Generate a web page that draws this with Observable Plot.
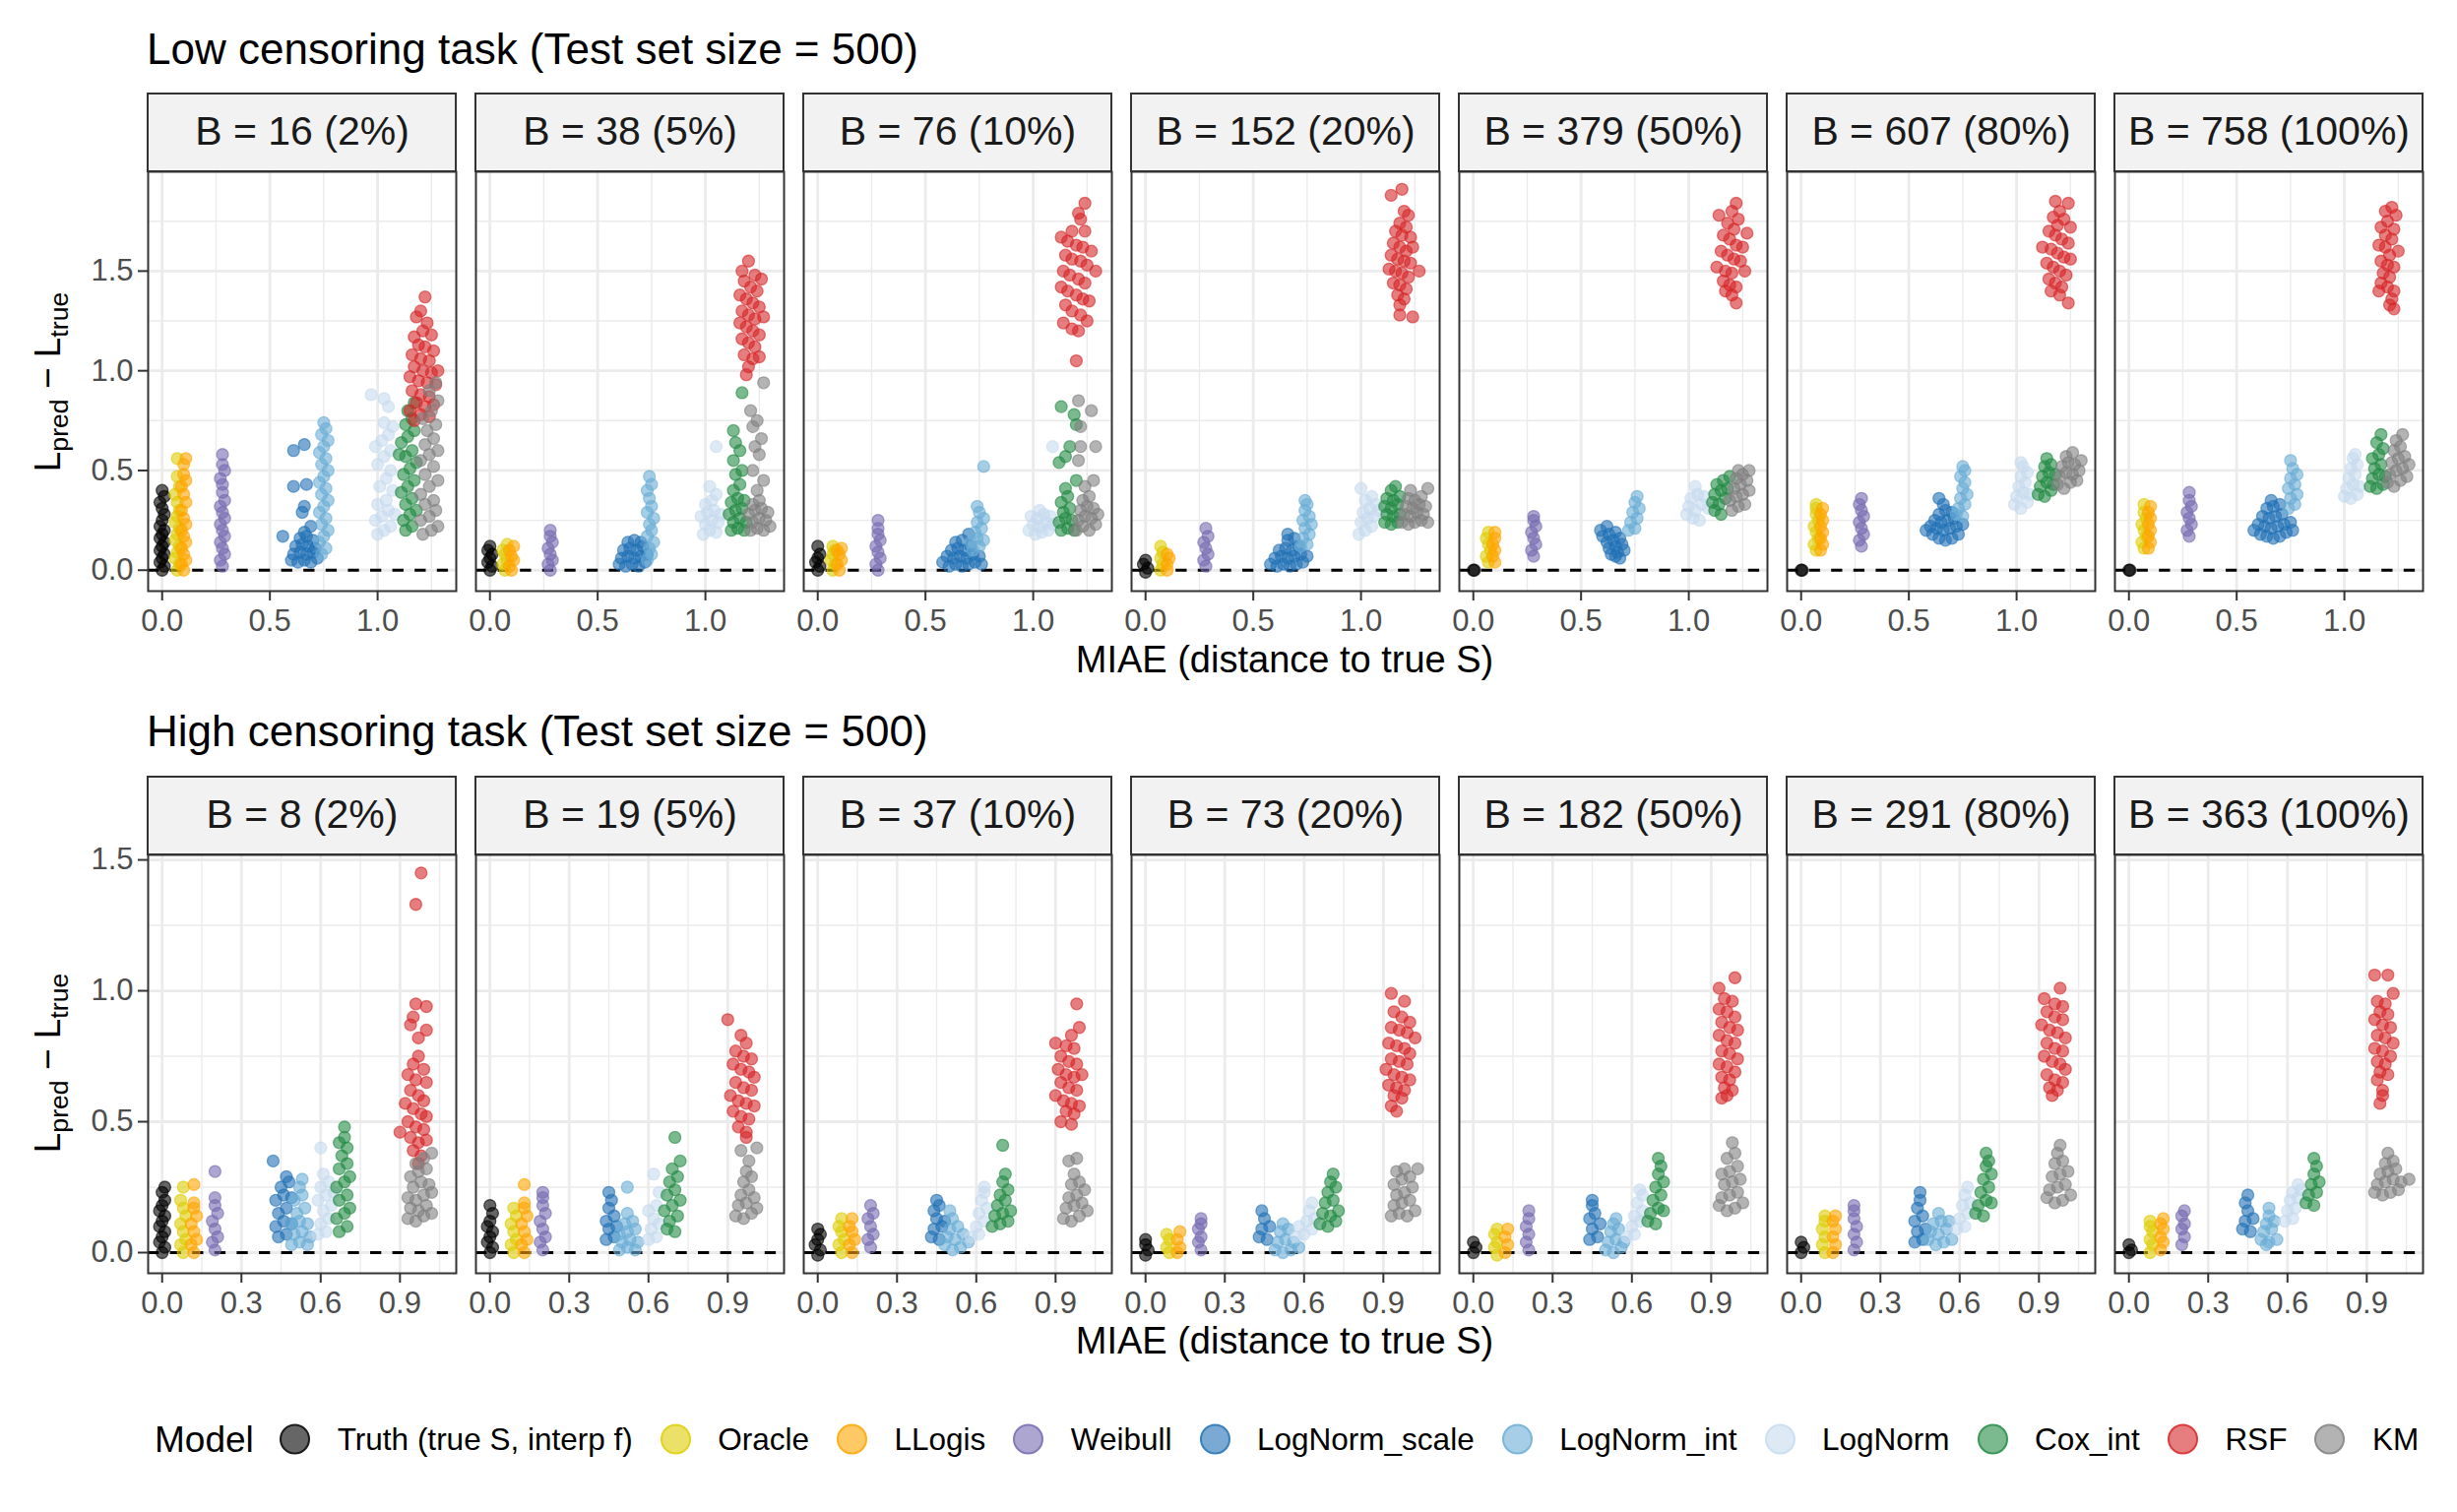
<!DOCTYPE html>
<html><head><meta charset="utf-8">
<script src="https://cdn.jsdelivr.net/npm/d3@7"></script>
<script src="https://cdn.jsdelivr.net/npm/@observablehq/plot@0.6"></script>
<style>
body{margin:0;background:#fff}
#root{position:relative;width:2496px;height:1536px;background:#fff;font-family:"Liberation Sans",Arial,sans-serif;color:#000;overflow:hidden}
.abs{position:absolute;white-space:nowrap;line-height:1}
.title{font-size:44px;left:149px}
.xlab{font-size:38px;left:1305px;transform:translateX(-50%)}
.ylab{font-size:37px;left:52px;transform:translate(-50%,-50%) rotate(-90deg)}
.ylab sub{font-size:0.72em;line-height:1}
.row{position:absolute;left:0}
#legend{position:absolute;left:157px;top:1462px;transform:translateY(-50%);display:flex;align-items:center;white-space:nowrap;line-height:1}
#legend .ltitle{font-size:37px;margin-right:-1.5px}
#legend .key{width:31px;height:31px;border-radius:50%;box-sizing:border-box;margin:0 27.5px 0 28px}
#legend .lab{font-size:31.5px}
</style></head>
<body><div id="root"></div>
<script>
// ---- models, colours, panel labels ----
const models = ["Truth (true S, interp f)","Oracle","LLogis","Weibull","LogNorm_scale","LogNorm_int","LogNorm","Cox_int","RSF","KM"];
const colors = ["#000000","#DDCD05","#FFA500","#756BB1","#2171B5","#6BAED6","#C6DBEF","#238B45","#D62728","#808080"];
const lowLabels = ["B = 16 (2%)","B = 38 (5%)","B = 76 (10%)","B = 152 (20%)","B = 379 (50%)","B = 607 (80%)","B = 758 (100%)"];
const highLabels = ["B = 8 (2%)","B = 19 (5%)","B = 37 (10%)","B = 73 (20%)","B = 182 (50%)","B = 291 (80%)","B = 363 (100%)"];
const lowXTicks = [0, 0.5, 1.0], lowXMinor = [0.25, 0.75, 1.25];
const highXTicks = [0, 0.3, 0.6, 0.9], highXMinor = [0.15, 0.45, 0.75, 1.05];
const yTicks = [0, 0.5, 1.0, 1.5];
const lowYMinor = [0.25, 0.75, 1.25, 1.75], highYMinor = [0.25, 0.75, 1.25];

// ---- points: one string per model, "MIAE,Lpred-Ltrue" pairs ----
const low16 = [
"0,0 .01,.02 -.01,.04 0,.06 .01,.08 -.01,.1 0,.12 .01,.14 -.01,.16 0,.18 .01,.2 -.01,.22 0,.25 .01,.28 0,.31 -.01,.34 .01,.37 0,.4",
".07,0 .08,.03 .06,.06 .07,.09 .08,.12 .06,.15 .07,.18 .08,.21 .06,.24 .07,.27 .08,.3 .07,.34 .06,.38 .08,.42 .07,.47 .07,.56",
".1,0 .09,.03 .11,.05 .1,.08 .09,.11 .11,.14 .1,.17 .09,.2 .11,.23 .1,.26 .09,.3 .11,.34 .1,.38 .09,.42 .11,.45 .1,.48 .1,.53 .11,.56",
".28,.02 .27,.05 .29,.08 .28,.11 .27,.14 .29,.17 .28,.2 .27,.23 .29,.26 .28,.29 .27,.32 .29,.35 .28,.39 .28,.43 .27,.46 .29,.5 .28,.53 .28,.58",
".6,.05 .63,.04 .66,.05 .69,.04 .72,.06 .61,.08 .64,.09 .67,.08 .7,.09 .62,.12 .65,.13 .68,.12 .71,.11 .64,.16 .67,.17 .7,.15 .66,.19 .56,.17 .61,.6 .66,.63 .61,.42 .67,.43 .65,.29 .66,.32 .69,.22",
".74,.08 .76,.11 .73,.14 .75,.17 .77,.2 .74,.23 .76,.26 .73,.29 .75,.32 .77,.35 .74,.38 .76,.41 .73,.44 .75,.47 .77,.5 .74,.53 .76,.56 .73,.59 .75,.62 .77,.65 .74,.68 .76,.71 .75,.74",
"1.0,.18 1.03,.2 1.06,.22 .99,.25 1.02,.27 1.05,.3 1.08,.28 1.0,.33 1.04,.35 1.07,.4 1.01,.42 1.04,.46 1.06,.5 1.0,.53 1.03,.57 1.06,.6 .99,.62 1.02,.65 1.05,.68 1.07,.72 1.03,.74 .97,.88 1.03,.86 1.05,.82",
"1.13,.2 1.16,.22 1.12,.25 1.15,.28 1.18,.3 1.13,.33 1.16,.36 1.11,.39 1.14,.42 1.17,.45 1.12,.48 1.15,.51 1.18,.54 1.13,.57 1.16,.6 1.11,.64 1.14,.67 1.17,.7 1.13,.73 1.16,.76 1.14,.8 1.17,.84 1.1,.58",
"1.22,1.37 1.2,1.3 1.18,1.27 1.23,1.24 1.21,1.2 1.17,1.17 1.25,1.18 1.19,1.13 1.22,1.12 1.26,1.1 1.16,1.08 1.2,1.06 1.24,1.05 1.17,1.02 1.21,1.0 1.25,.99 1.28,1.0 1.15,.97 1.19,.95 1.23,.94 1.27,.93 1.16,.9 1.2,.88 1.24,.87 1.18,.84 1.22,.82 1.26,.83 1.15,.8 1.2,.78 1.24,.77 1.17,.75",
"1.21,.18 1.25,.2 1.28,.22 1.2,.25 1.24,.27 1.27,.3 1.22,.33 1.26,.35 1.2,.38 1.24,.42 1.28,.45 1.22,.48 1.26,.52 1.2,.55 1.24,.58 1.28,.6 1.22,.63 1.26,.66 1.23,.7 1.27,.73 1.21,.76 1.25,.8 1.28,.85 1.24,.9 1.27,.94"
];
const low38 = [
"0,0 .01,.02 -.01,.04 0,.06 .01,.08 -.01,.1 0,.12",
".07,0 .06,.03 .08,.05 .07,.08 .06,.1 .08,.13",
".1,0 .09,.02 .11,.05 .1,.07 .09,.1 .11,.12",
".28,0 .27,.03 .29,.05 .28,.08 .27,.11 .29,.14 .28,.17 .28,.2",
".6,.03 .63,.02 .66,.03 .69,.02 .72,.04 .61,.06 .64,.07 .67,.06 .7,.07 .73,.08 .62,.1 .65,.11 .68,.1 .71,.12 .64,.14 .67,.15 .7,.14",
".73,.05 .75,.08 .74,.11 .76,.14 .73,.17 .75,.2 .74,.23 .76,.26 .73,.29 .75,.32 .74,.36 .73,.4 .75,.43 .74,.47",
".99,.18 1.02,.2 1.05,.19 1.0,.23 1.03,.25 1.06,.24 .98,.27 1.01,.29 1.04,.3 1.07,.28 1.0,.33 1.03,.35 1.05,.38 1.02,.42 1.05,.62",
"1.12,.2 1.15,.21 1.18,.2 1.13,.24 1.16,.26 1.19,.24 1.11,.28 1.14,.3 1.17,.31 1.12,.34 1.15,.36 1.18,.35 1.13,.4 1.16,.43 1.14,.48 1.17,.5 1.13,.55 1.16,.6 1.14,.64 1.13,.7 1.17,.89",
"1.2,1.55 1.17,1.5 1.23,1.48 1.26,1.46 1.18,1.45 1.21,1.42 1.24,1.4 1.16,1.38 1.19,1.36 1.22,1.34 1.25,1.32 1.17,1.3 1.2,1.28 1.23,1.26 1.27,1.27 1.16,1.24 1.19,1.22 1.22,1.2 1.25,1.18 1.17,1.16 1.2,1.14 1.23,1.12 1.18,1.08 1.22,1.06 1.25,1.07 1.2,1.02 1.19,.98",
"1.21,.2 1.24,.21 1.27,.2 1.3,.22 1.22,.24 1.25,.26 1.28,.25 1.2,.28 1.23,.3 1.26,.31 1.29,.29 1.22,.33 1.25,.35 1.24,.4 1.27,.45 1.22,.5 1.25,.58 1.23,.62 1.26,.66 1.22,.72 1.24,.75 1.21,.8 1.27,.94"
];
const low76 = [
"0,0 .01,.02 -.01,.04 0,.06 .01,.08 0,.12",
".07,0 .08,.03 .06,.05 .07,.08 .08,.1 .07,.12",
".1,0 .09,.03 .11,.05 .1,.08 .09,.1 .11,.11",
".28,0 .27,.03 .29,.06 .28,.09 .27,.12 .29,.15 .28,.18 .28,.21 .28,.25",
".58,.04 .61,.02 .64,.03 .67,.02 .7,.03 .73,.04 .76,.03 .6,.07 .63,.06 .66,.07 .69,.06 .72,.08 .75,.07 .62,.1 .65,.11 .68,.1 .71,.12 .64,.14 .67,.15 .7,.18",
".72,.1 .75,.12 .71,.14 .74,.16 .77,.15 .73,.19 .76,.21 .74,.24 .77,.26 .75,.29 .74,.32 .77,.52",
".98,.2 1.01,.18 1.04,.19 1.07,.2 1.0,.23 1.03,.22 1.06,.24 1.09,.23 .99,.27 1.02,.26 1.05,.28 1.08,.27 1.03,.3 1.09,.62",
"1.13,.2 1.16,.21 1.19,.2 1.12,.24 1.15,.26 1.18,.25 1.14,.29 1.17,.31 1.13,.34 1.16,.37 1.15,.41 1.2,.45 1.12,.54 1.15,.57 1.17,.62 1.2,.73 1.19,.78 1.13,.82",
"1.24,1.84 1.21,1.79 1.22,1.76 1.18,1.7 1.24,1.7 1.13,1.67 1.16,1.65 1.2,1.63 1.23,1.62 1.27,1.6 1.15,1.58 1.18,1.56 1.22,1.55 1.25,1.53 1.29,1.5 1.14,1.5 1.17,1.48 1.21,1.46 1.24,1.44 1.13,1.42 1.16,1.4 1.2,1.38 1.23,1.36 1.26,1.35 1.15,1.33 1.18,1.3 1.22,1.28 1.25,1.25 1.14,1.24 1.18,1.21 1.21,1.2 1.2,1.05",
"1.2,.2 1.23,.22 1.26,.2 1.29,.23 1.21,.25 1.24,.27 1.27,.26 1.3,.28 1.22,.3 1.25,.32 1.28,.31 1.23,.35 1.26,.37 1.24,.42 1.28,.45 1.21,.55 1.29,.62 1.22,.62 1.22,.72 1.27,.8 1.21,.85"
];
const low152 = [
"0,-.01 .01,.01 -.01,.03 0,.05",
".07,0 .08,.03 .07,.06 .08,.09 .07,.12",
".1,0 .1,.03 .11,.06 .1,.08",
".28,.02 .27,.05 .29,.08 .28,.11 .27,.14 .29,.17 .28,.21",
".58,.03 .61,.02 .64,.03 .67,.02 .7,.03 .73,.04 .6,.06 .63,.07 .66,.06 .69,.07 .72,.08 .75,.07 .62,.1 .65,.11 .68,.1 .71,.12 .66,.15 .69,.16 .66,.18",
".72,.12 .75,.13 .73,.16 .76,.18 .74,.21 .77,.23 .73,.25 .76,.27 .74,.3 .75,.33 .74,.35",
".99,.18 1.02,.2 1.05,.22 1.0,.24 1.03,.26 1.06,.27 1.08,.3 1.01,.29 1.04,.31 1.07,.33 1.02,.35 1.05,.37 1.0,.41",
"1.11,.24 1.14,.23 1.17,.24 1.12,.28 1.15,.27 1.18,.28 1.11,.32 1.14,.31 1.17,.33 1.12,.36 1.15,.35 1.18,.37 1.14,.4 1.16,.42",
"1.19,1.91 1.14,1.88 1.2,1.8 1.22,1.78 1.18,1.74 1.21,1.72 1.16,1.7 1.19,1.68 1.23,1.67 1.15,1.64 1.18,1.62 1.21,1.6 1.24,1.62 1.14,1.58 1.17,1.56 1.2,1.55 1.23,1.54 1.13,1.51 1.16,1.5 1.19,1.49 1.22,1.47 1.27,1.5 1.15,1.44 1.18,1.43 1.21,1.41 1.17,1.38 1.2,1.36 1.18,1.33 1.18,1.28 1.24,1.27",
"1.19,.24 1.22,.23 1.25,.24 1.28,.25 1.31,.24 1.2,.28 1.23,.27 1.26,.29 1.29,.28 1.21,.32 1.24,.31 1.27,.33 1.3,.32 1.22,.36 1.25,.35 1.28,.37 1.23,.4 1.31,.41"
];
const low379 = [
"0,0 .005,0",
".07,.04 .06,.07 .08,.1 .07,.13 .06,.16 .07,.19",
".1,.04 .09,.07 .1,.1 .09,.13 .1,.16 .1,.19",
".28,.07 .27,.1 .29,.13 .28,.16 .27,.19 .29,.22 .28,.25 .28,.27",
".59,.2 .62,.22 .6,.17 .63,.18 .66,.19 .62,.14 .65,.15 .68,.16 .63,.11 .66,.12 .69,.13 .64,.08 .67,.09 .7,.1 .66,.07 .68,.06",
".72,.2 .75,.21 .73,.24 .76,.26 .74,.29 .77,.31 .75,.34 .76,.37",
".99,.28 1.02,.26 1.05,.25 1.0,.32 1.03,.3 1.06,.33 1.09,.31 1.01,.36 1.04,.38 1.07,.37 1.03,.42",
"1.12,.3 1.15,.28 1.11,.34 1.14,.33 1.17,.36 1.12,.38 1.15,.4 1.18,.41 1.13,.43 1.16,.45 1.19,.47",
"1.22,1.84 1.2,1.8 1.14,1.78 1.23,1.76 1.18,1.74 1.21,1.71 1.27,1.69 1.16,1.68 1.19,1.66 1.22,1.63 1.25,1.62 1.15,1.6 1.18,1.58 1.21,1.56 1.24,1.55 1.13,1.52 1.17,1.5 1.2,1.49 1.26,1.5 1.16,1.45 1.19,1.43 1.22,1.42 1.17,1.4 1.2,1.38 1.22,1.34",
"1.2,.3 1.23,.32 1.26,.33 1.19,.35 1.22,.37 1.25,.38 1.28,.4 1.21,.41 1.24,.43 1.27,.45 1.22,.46 1.25,.48 1.28,.5 1.23,.5"
];
const low607 = [
"0,0 .005,0",
".07,.1 .06,.13 .08,.16 .07,.19 .06,.22 .08,.25 .07,.28 .07,.31 .07,.33",
".09,.1 .1,.13 .09,.16 .1,.19 .09,.22 .1,.25 .09,.28 .1,.31",
".28,.12 .27,.15 .29,.18 .28,.21 .27,.24 .29,.27 .28,.3 .27,.33 .28,.36",
".58,.2 .61,.18 .64,.16 .67,.15 .7,.16 .73,.18 .6,.22 .63,.21 .66,.2 .69,.21 .72,.22 .75,.23 .62,.25 .65,.24 .68,.25 .71,.26 .64,.28 .67,.3 .7,.29 .66,.33 .64,.36",
".72,.28 .75,.27 .73,.31 .76,.33 .74,.36 .77,.38 .75,.41 .76,.44 .74,.47 .76,.5 .75,.52",
".99,.33 1.02,.31 1.05,.34 1.0,.37 1.03,.39 1.06,.38 1.01,.42 1.04,.44 1.02,.47 1.05,.49 1.03,.52 1.02,.54",
"1.1,.38 1.13,.37 1.16,.4 1.11,.42 1.14,.44 1.17,.43 1.12,.47 1.15,.49 1.18,.48 1.13,.52 1.16,.53 1.14,.56",
"1.18,1.85 1.24,1.84 1.2,1.8 1.17,1.77 1.22,1.76 1.19,1.73 1.25,1.72 1.15,1.7 1.18,1.68 1.21,1.66 1.24,1.64 1.12,1.62 1.16,1.61 1.19,1.59 1.22,1.57 1.25,1.56 1.14,1.54 1.17,1.52 1.2,1.5 1.23,1.48 1.15,1.46 1.18,1.44 1.21,1.42 1.16,1.4 1.2,1.38 1.24,1.34",
"1.19,.43 1.22,.41 1.25,.44 1.28,.45 1.2,.47 1.23,.49 1.26,.48 1.29,.5 1.21,.52 1.24,.54 1.27,.53 1.3,.55 1.23,.57 1.26,.59"
];
const low758 = [
"0,0 .005,0",
".07,.11 .06,.14 .08,.17 .07,.2 .06,.23 .08,.26 .07,.29 .07,.33",
".09,.11 .1,.14 .09,.17 .1,.2 .09,.23 .1,.26 .09,.29 .1,.32",
".28,.17 .27,.2 .29,.23 .28,.26 .27,.29 .29,.32 .28,.35 .28,.39",
".58,.2 .61,.18 .64,.17 .67,.16 .7,.17 .73,.19 .76,.2 .6,.23 .63,.22 .66,.21 .69,.22 .72,.23 .75,.24 .62,.27 .65,.26 .68,.27 .71,.28 .64,.31 .67,.32 .7,.33 .66,.35",
".74,.31 .77,.33 .75,.36 .78,.38 .74,.41 .77,.43 .75,.46 .78,.48 .76,.51 .75,.55",
"1.0,.37 1.03,.36 1.06,.38 1.01,.41 1.04,.43 1.07,.42 1.02,.46 1.05,.48 1.03,.51 1.06,.53 1.04,.56 1.05,.58",
"1.12,.42 1.15,.41 1.18,.43 1.13,.46 1.16,.48 1.19,.47 1.14,.51 1.17,.53 1.13,.56 1.16,.58 1.18,.61 1.15,.64 1.17,.68",
"1.22,1.82 1.19,1.8 1.24,1.78 1.2,1.75 1.17,1.72 1.23,1.71 1.19,1.68 1.22,1.66 1.16,1.63 1.19,1.62 1.25,1.6 1.21,1.58 1.17,1.55 1.2,1.53 1.23,1.52 1.18,1.49 1.21,1.47 1.17,1.44 1.2,1.42 1.23,1.4 1.16,1.4 1.22,1.36 1.21,1.33 1.23,1.31",
"1.2,.44 1.23,.42 1.26,.45 1.29,.47 1.21,.48 1.24,.5 1.27,.51 1.3,.53 1.22,.54 1.25,.56 1.28,.57 1.23,.6 1.26,.62 1.24,.65 1.27,.68"
];
const high8 = [
"0,0 .01,.02 -.01,.04 0,.06 .01,.08 -.01,.1 0,.12 .01,.14 -.01,.16 0,.18 .01,.2 0,.23 .01,.25",
".08,0 .07,.03 .09,.05 .08,.08 .07,.11 .09,.14 .08,.17 .07,.2 .08,.25",
".12,0 .11,.03 .13,.05 .12,.08 .11,.11 .13,.14 .12,.17 .12,.19 .12,.26",
".2,.01 .19,.04 .21,.06 .2,.09 .19,.12 .21,.15 .2,.18 .2,.21 .2,.31",
".44,.06 .47,.07 .43,.1 .46,.12 .49,.11 .44,.15 .47,.17 .43,.2 .46,.22 .49,.21 .45,.25 .48,.27 .47,.29 .42,.35",
".49,.03 .52,.04 .55,.03 .5,.07 .53,.08 .56,.06 .49,.11 .52,.12 .55,.11 .51,.15 .54,.17 .5,.2 .53,.22 .52,.25 .53,.28",
".59,.07 .62,.08 .6,.11 .63,.13 .61,.16 .64,.18 .59,.2 .62,.22 .65,.23 .6,.25 .63,.27 .61,.3 .6,.4",
".67,.08 .7,.1 .66,.13 .69,.15 .71,.17 .67,.2 .7,.22 .66,.25 .69,.27 .71,.29 .67,.32 .7,.34 .68,.37 .7,.4 .67,.42 .69,.44 .69,.48",
".98,1.45 .96,1.33 .96,.95 1.0,.94 .95,.9 1.0,.85 .97,.82 .94,.87 .97,.75 .95,.72 .99,.7 .93,.68 .96,.66 1.0,.65 .94,.62 .97,.6 .99,.58 .92,.57 .95,.55 .98,.53 1.0,.52 .93,.5 .96,.48 .99,.47 .9,.46 .94,.44 .97,.42 1.0,.43 .95,.39 .98,.37 .97,.34",
".93,.13 .96,.12 .99,.14 1.02,.15 .94,.17 .97,.16 1.0,.18 .93,.21 .96,.2 .99,.22 1.02,.23 .95,.25 .98,.27 1.01,.26 .94,.29 .97,.31 1.0,.32 .96,.34 .99,.36 1.02,.38"
];
const high19 = [
"0,0 .01,.02 -.01,.04 0,.06 .01,.08 -.01,.1 0,.12 .01,.15 0,.18",
".09,0 .08,.03 .1,.05 .09,.08 .08,.11 .1,.14 .09,.17",
".13,0 .12,.03 .14,.05 .13,.08 .12,.11 .14,.14 .13,.17 .13,.19 .13,.26",
".2,.01 .19,.04 .21,.06 .2,.09 .19,.12 .21,.15 .2,.18 .2,.21 .2,.23",
".44,.05 .47,.06 .45,.09 .48,.1 .44,.12 .47,.14 .45,.17 .46,.2 .45,.23",
".49,.01 .52,.02 .55,.01 .5,.04 .53,.05 .56,.04 .49,.07 .52,.08 .55,.09 .51,.11 .54,.12 .52,.15 .52,.25",
".6,.05 .63,.06 .61,.09 .64,.11 .62,.13 .6,.16 .63,.18 .64,.23 .62,.3",
".67,.09 .7,.08 .68,.12 .71,.14 .66,.16 .69,.18 .72,.2 .67,.22 .7,.24 .68,.27 .71,.29 .69,.32 .72,.35 .7,.44",
".9,.89 .95,.83 .97,.8 .93,.77 .96,.75 .99,.74 .92,.72 .95,.7 .98,.69 1.0,.67 .93,.65 .96,.63 .99,.62 .91,.6 .94,.58 .97,.57 1.0,.56 .92,.54 .95,.52 .98,.51 .94,.48 .97,.46 .97,.44",
".93,.14 .96,.13 .99,.15 1.01,.17 .94,.18 .97,.19 1.0,.21 .95,.22 .98,.24 .96,.27 .99,.29 .97,.31 .98,.35 .95,.39 1.01,.4"
];
const high37 = [
"0,-.01 .01,.01 -.01,.03 0,.05 .01,.07 0,.09",
".09,0 .08,.03 .1,.05 .09,.08 .08,.1 .09,.13",
".13,0 .12,.03 .14,.05 .13,.08 .12,.1 .13,.13",
".2,.02 .19,.05 .21,.07 .2,.1 .19,.13 .21,.15 .2,.18",
".43,.06 .46,.05 .44,.09 .47,.1 .45,.13 .48,.12 .44,.16 .46,.18 .45,.2",
".48,.03 .51,.01 .54,.02 .57,.04 .49,.06 .52,.05 .55,.07 .5,.09 .53,.1 .51,.13 .5,.16",
".58,.06 .61,.07 .6,.1 .63,.12 .61,.15 .64,.17 .62,.2 .63,.23 .63,.25",
".66,.1 .69,.11 .72,.12 .67,.14 .7,.15 .73,.16 .68,.18 .71,.2 .69,.22 .72,.24 .7,.27 .71,.3 .7,.41",
".98,.95 .99,.86 .96,.83 .9,.8 .94,.79 .97,.78 .92,.75 .95,.73 .98,.72 .91,.7 .94,.68 .97,.67 1.0,.68 .92,.65 .95,.63 .98,.62 .9,.6 .93,.58 .96,.57 .99,.56 .94,.54 .97,.53 .92,.5 .96,.49",
".93,.13 .96,.12 .99,.14 1.02,.16 .94,.17 .97,.18 1.0,.19 .95,.21 .98,.22 1.01,.24 .96,.26 .99,.27 .97,.3 .95,.35 .98,.36"
];
const high73 = [
"0,-.01 .01,.01 0,.03 0,.05",
".09,0 .08,.02 .09,.05 .08,.07",
".12,0 .13,.02 .12,.05 .13,.08",
".21,.01 .2,.04 .21,.06 .2,.09 .21,.11 .21,.13",
".43,.06 .46,.05 .44,.09 .47,.1 .45,.13 .44,.16",
".49,.01 .52,0 .55,.01 .58,.02 .5,.04 .53,.05 .56,.04 .51,.08 .54,.09 .52,.11",
".57,.06 .6,.07 .63,.09 .58,.1 .61,.12 .64,.13 .62,.16 .63,.19",
".66,.11 .69,.1 .72,.12 .67,.15 .7,.14 .73,.16 .68,.19 .71,.2 .69,.23 .72,.25 .7,.27 .71,.3",
".93,.99 .98,.96 .94,.92 .97,.9 1.0,.88 .93,.86 .96,.85 .99,.84 1.02,.82 .92,.8 .95,.79 .98,.78 1.0,.76 .93,.74 .96,.73 .99,.72 .91,.7 .94,.68 .97,.67 1.0,.66 .92,.64 .95,.63 .98,.62 .94,.6 .97,.59 .93,.56 .95,.54",
".93,.14 .96,.15 .99,.14 1.02,.16 .94,.18 .97,.19 1.0,.2 .95,.22 .98,.23 1.01,.25 .94,.26 .97,.28 1.0,.29 .95,.31 .98,.32 1.03,.32"
];
const high182 = [
"0,0 .01,.02 0,.04",
".09,-.01 .08,.02 .09,.04 .08,.07 .09,.09",
".12,0 .13,.03 .12,.06 .13,.09",
".21,.01 .2,.04 .21,.07 .2,.1 .21,.13 .21,.16",
".44,.05 .47,.06 .45,.09 .48,.11 .44,.13 .46,.15 .45,.18 .45,.2",
".5,.01 .53,0 .56,.02 .51,.04 .54,.05 .57,.04 .52,.08 .55,.09 .53,.11 .54,.13",
".58,.06 .61,.07 .6,.1 .63,.12 .61,.14 .64,.16 .62,.19 .64,.22 .63,.24",
".66,.12 .69,.11 .67,.15 .7,.17 .72,.16 .68,.2 .71,.22 .69,.25 .72,.27 .7,.3 .71,.33 .7,.36",
".99,1.05 .93,1.01 .95,.97 .98,.96 .93,.93 .96,.92 .99,.9 .94,.88 .97,.86 1.0,.85 .93,.83 .96,.81 .99,.8 .94,.77 .97,.76 1.0,.74 .93,.72 .96,.71 .99,.69 .94,.67 .97,.66 .95,.63 .98,.62 .94,.59 .96,.6",
".93,.18 .96,.16 .99,.17 1.02,.19 .94,.21 .97,.22 1.0,.23 .95,.26 .98,.27 1.01,.28 .94,.3 .97,.31 1.0,.33 .96,.36 .99,.38 .98,.42"
];
const high291 = [
"0,0 .01,.02 0,.04",
".09,0 .08,.03 .09,.06 .08,.09 .09,.12 .09,.14",
".12,0 .13,.03 .12,.06 .13,.09 .12,.12 .13,.14",
".2,.01 .21,.04 .2,.07 .21,.1 .2,.13 .2,.16 .2,.18",
".43,.04 .46,.05 .44,.08 .47,.09 .43,.12 .46,.14 .44,.17 .45,.2 .45,.23",
".48,.05 .51,.03 .54,.04 .57,.05 .49,.08 .52,.07 .55,.09 .5,.11 .53,.12 .56,.12 .52,.15",
".59,.09 .62,.1 .6,.13 .63,.15 .61,.18 .64,.19 .62,.22 .63,.25",
".66,.15 .69,.14 .67,.18 .7,.2 .72,.19 .68,.23 .71,.25 .69,.28 .72,.3 .7,.33 .71,.35 .7,.38",
".98,1.01 .92,.97 .96,.95 .99,.94 .93,.92 .96,.9 .99,.89 .91,.87 .94,.85 .97,.84 1.0,.82 .93,.8 .96,.78 .99,.77 .92,.75 .95,.73 .98,.72 1.0,.7 .93,.68 .96,.66 .99,.65 .94,.63 .97,.62 .95,.6",
".93,.21 .96,.19 .99,.2 1.02,.22 .94,.24 .97,.25 1.0,.26 .95,.29 .98,.3 1.01,.31 .96,.34 .99,.35 .97,.38 .98,.41"
];
const high363 = [
"0,0 .01,.01 0,.03",
".08,0 .09,.03 .08,.05 .09,.08 .08,.1 .08,.12",
".12,.01 .13,.04 .12,.06 .13,.09 .12,.11 .13,.13",
".2,.03 .21,.06 .2,.09 .21,.11 .2,.14 .21,.16",
".43,.09 .46,.08 .44,.12 .47,.13 .45,.16 .44,.19 .45,.22",
".5,.05 .53,.04 .56,.05 .51,.08 .54,.09 .52,.11 .55,.12 .53,.14 .53,.17 .52,.03",
".59,.12 .62,.13 .6,.16 .63,.17 .61,.2 .64,.21 .62,.23 .65,.24 .64,.26",
".67,.19 .7,.18 .68,.22 .71,.23 .69,.26 .72,.27 .7,.3 .71,.33 .7,.36",
".93,1.06 .98,1.06 1.0,.99 .94,.96 .97,.95 .95,.92 .98,.91 .93,.89 .96,.87 .99,.86 .94,.83 .97,.82 1.0,.8 .93,.78 .96,.77 .99,.75 .94,.73 .97,.72 .95,.69 .98,.68 .94,.66 .96,.62 .96,.6 .95,.57",
".93,.23 .96,.22 .99,.23 1.02,.24 .94,.26 .97,.27 1.0,.28 1.03,.27 .95,.3 .98,.31 1.01,.32 .97,.34 1.0,.35 .98,.38 1.06,.28"
];

const lowPanels = [low16, low38, low76, low152, low379, low607, low758];
const highPanels = [high8, high19, high37, high73, high182, high291, high363];

// ---- build table ----
function table(panels, labels) {
  const rows = [];
  panels.forEach((panel, i) => panel.forEach((s, j) => {
    s.trim().split(/\s+/).forEach(p => {
      const [x, y] = p.split(",").map(Number);
      rows.push({panel: labels[i], model: models[j], x, y});
    });
  }));
  return rows;
}

const FONT = "'Liberation Sans', Arial, sans-serif";
const root = document.getElementById("root");

function makeRow({panels, labels, top, height, xDomain, yDomain, xTicks, xMinor, yMinor}) {
  const marginTop = 94, marginBottom = 60;
  const data = table(panels, labels);
  const fmt = d => d.toFixed(1);
  const plot = Plot.plot({
    width: 2496, height,
    marginLeft: 148, marginRight: 34, marginTop, marginBottom,
    style: {fontFamily: FONT, background: "transparent", overflow: "visible"},
    fx: {domain: labels, paddingInner: 0.0615, paddingOuter: 0, label: null},
    x: {domain: xDomain, label: null},
    y: {domain: yDomain, label: null},
    color: {domain: models, range: colors},
    marks: [
      Plot.gridX(xMinor, {stroke: "#EBEBEB", strokeOpacity: 1, strokeWidth: 1.4}),
      Plot.gridY(yMinor, {stroke: "#EBEBEB", strokeOpacity: 1, strokeWidth: 1.4}),
      Plot.gridX(xTicks, {stroke: "#EBEBEB", strokeOpacity: 1, strokeWidth: 2.8}),
      Plot.gridY(yTicks, {stroke: "#EBEBEB", strokeOpacity: 1, strokeWidth: 2.8}),
      Plot.ruleY([0], {stroke: "#000", strokeWidth: 3, strokeDasharray: "11.3,11.3"}),
      Plot.dot(data, {x: "x", y: "y", fx: "panel", fill: "model", stroke: "model",
        r: 6, fillOpacity: 0.6, strokeOpacity: 0.6, strokeWidth: 1.3}),
      Plot.frame({stroke: "#333333", strokeWidth: 2}),
      Plot.axisX(xTicks, {tickFormat: fmt, tickSize: 10, tickPadding: 8, fontSize: 31,
        stroke: "#333333", strokeWidth: 2, fill: "#4D4D4D", label: null}),
      Plot.axisY(yTicks, {tickFormat: fmt, tickSize: 10, tickPadding: 5, fontSize: 31,
        stroke: "#333333", strokeWidth: 2, fill: "#4D4D4D", label: null}),
      Plot.axisFx({anchor: "top", tickSize: 0, tickPadding: 28, fontSize: 41, fill: "#1A1A1A", label: null})
    ]
  });
  // strip backgrounds behind the facet labels
  const fx = plot.scale("fx");
  const g = d3.select(plot).insert("g", ":first-child");
  for (const l of labels) {
    g.append("rect").attr("x", fx.apply(l)).attr("y", marginTop - 79)
      .attr("width", fx.bandwidth).attr("height", 79)
      .attr("fill", "#F2F2F2").attr("stroke", "#333333").attr("stroke-width", 2);
  }
  const wrap = document.createElement("div");
  wrap.className = "row";
  wrap.style.top = top + "px";
  wrap.appendChild(plot);
  root.appendChild(wrap);
}

makeRow({panels: lowPanels, labels: lowLabels, top: 80, height: 580,
  xDomain: [-0.065, 1.365], yDomain: [-0.105, 1.998], xTicks: lowXTicks, xMinor: lowXMinor, yMinor: lowYMinor});
makeRow({panels: highPanels, labels: highLabels, top: 774, height: 579,
  xDomain: [-0.053, 1.113], yDomain: [-0.079, 1.519], xTicks: highXTicks, xMinor: highXMinor, yMinor: highYMinor});

// ---- texts ----
function addText(cls, html, top) {
  const d = document.createElement("div");
  d.className = "abs " + cls;
  d.innerHTML = html;
  d.style.top = top + "px";
  root.appendChild(d);
}
addText("title", "Low censoring task (Test set size = 500)", 28);
addText("title", "High censoring task (Test set size = 500)", 721);
addText("xlab", "MIAE (distance to true S)", 651);
addText("xlab", "MIAE (distance to true S)", 1343);
addText("ylab", "L<sub>pred</sub> − L<sub>true</sub>", 388);
addText("ylab", "L<sub>pred</sub> − L<sub>true</sub>", 1080);

// ---- legend ----
const leg = document.createElement("div");
leg.id = "legend";
const lt = document.createElement("span");
lt.className = "ltitle"; lt.textContent = "Model";
leg.appendChild(lt);
models.forEach((m, i) => {
  const k = document.createElement("span");
  k.className = "key";
  const c = d3.color(colors[i]);
  k.style.background = c.copy({opacity: 0.6}).formatRgb();
  k.style.border = "2px solid " + c.copy({opacity: 0.75}).formatRgb();
  const t = document.createElement("span");
  t.className = "lab"; t.textContent = m;
  leg.appendChild(k); leg.appendChild(t);
});
root.appendChild(leg);
</script>
</body></html>
